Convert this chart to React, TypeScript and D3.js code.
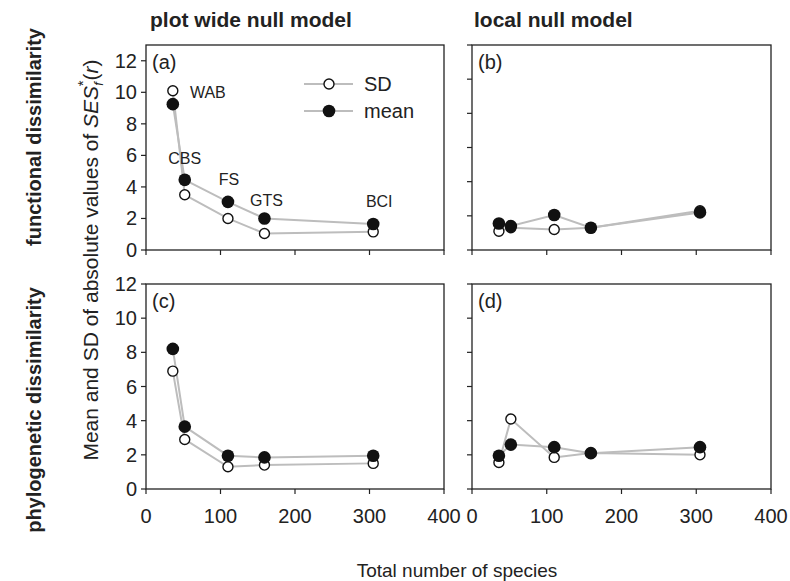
import * as d3 from "d3";

// number of species per plot
const species = [36, 52, 110, 159, 305];
const sites = ["WAB", "CBS", "FS", "GTS", "BCI"];

// functional dissimilarity
const funcSdPlot = [10.1, 3.5, 2.0, 1.05, 1.15];
const funcMeanPlot = [9.25, 4.45, 3.05, 2.0, 1.65];
const funcSdLocal = [1.1, 1.3, 1.2, 1.3, 2.3];
const funcMeanLocal = [1.55, 1.4, 2.05, 1.3, 2.2];

// phylogenetic dissimilarity
const phySdPlot = [6.9, 2.9, 1.3, 1.4, 1.5];
const phyMeanPlot = [8.2, 3.65, 1.95, 1.85, 1.95];
const phySdLocal = [1.55, 4.1, 1.85, 2.1, 2.0];
const phyMeanLocal = [1.95, 2.6, 2.45, 2.1, 2.45];

const xTicks = [0, 100, 200, 300, 400];
const yTicks = [0, 2, 4, 6, 8, 10, 12];

const FONT = "'Liberation Sans', Arial, Helvetica, sans-serif";
const INK = "#222";
const LINE = "#bdbdbd";

type Panel = {
  tag: string;
  sd: number[];
  mean: number[];
  left: number;
  right: number;
  top: number;
  bottom: number;
  yMax: number;
  xLabels: boolean;
  yLabels: boolean;
  siteLabels?: boolean;
};

const panels: Panel[] = [
  { tag: "(a)", sd: funcSdPlot, mean: funcMeanPlot, left: 146, right: 444, top: 45, bottom: 250, yMax: 13, xLabels: false, yLabels: true, siteLabels: true },
  { tag: "(b)", sd: funcSdLocal, mean: funcMeanLocal, left: 472, right: 771, top: 45, bottom: 250, yMax: 12, xLabels: false, yLabels: false },
  { tag: "(c)", sd: phySdPlot, mean: phyMeanPlot, left: 146, right: 444, top: 284, bottom: 489, yMax: 12, xLabels: true, yLabels: true },
  { tag: "(d)", sd: phySdLocal, mean: phyMeanLocal, left: 472, right: 771, top: 284, bottom: 489, yMax: 12, xLabels: true, yLabels: false },
];

// label offsets from the mean point (px)
const siteOffsets: [number, number][] = [
  [35, -6],
  [0, -16],
  [1, -17],
  [2, -12],
  [6, -17],
];

function PanelView({ p }: { p: Panel }) {
  const x = d3.scaleLinear().domain([0, 400]).range([p.left, p.right]);
  const y = d3.scaleLinear().domain([0, p.yMax]).range([p.bottom, p.top]);
  const line = d3
    .line<number>()
    .x((_, i) => x(species[i]))
    .y((d) => y(d));

  return (
    <g>
      <rect
        x={p.left}
        y={p.top}
        width={p.right - p.left}
        height={p.bottom - p.top}
        fill="none"
        stroke={INK}
        strokeWidth={1.3}
      />
      {xTicks.map((t) => (
        <g key={"x" + t}>
          <line x1={x(t)} x2={x(t)} y1={p.bottom} y2={p.bottom + 5} stroke={INK} strokeWidth={1.2} />
          {p.xLabels && (
            <text x={x(t)} y={p.bottom + 34} textAnchor="middle" fontSize={20} fill={INK}>
              {t}
            </text>
          )}
        </g>
      ))}
      {yTicks.map((t) => (
        <g key={"y" + t}>
          <line x1={p.left - 5} x2={p.left} y1={y(t)} y2={y(t)} stroke={INK} strokeWidth={1.2} />
          {p.yLabels && (
            <text x={p.left - 9} y={y(t) + 7} textAnchor="end" fontSize={20} fill={INK}>
              {t}
            </text>
          )}
        </g>
      ))}
      <text x={p.left + 6} y={p.top + 24} fontSize={20} fill={INK}>
        {p.tag}
      </text>

      <path d={line(p.sd) ?? ""} fill="none" stroke={LINE} strokeWidth={2} />
      <path d={line(p.mean) ?? ""} fill="none" stroke={LINE} strokeWidth={2} />
      {p.sd.map((v, i) => (
        <circle key={"s" + i} cx={x(species[i])} cy={y(v)} r={5} fill="#fff" stroke="#111" strokeWidth={1.4} />
      ))}
      {p.mean.map((v, i) => (
        <circle key={"m" + i} cx={x(species[i])} cy={y(v)} r={6.3} fill="#111" />
      ))}
      {p.siteLabels &&
        sites.map((s, i) => (
          <text
            key={s}
            x={x(species[i]) + siteOffsets[i][0]}
            y={y(p.mean[i]) + siteOffsets[i][1]}
            textAnchor="middle"
            fontSize={16}
            fill={INK}
          >
            {s}
          </text>
        ))}
    </g>
  );
}

export default function App() {
  return (
    <svg
      width={790}
      height={581}
      style={{ position: "absolute", left: 0, top: 0, background: "#fff" }}
      fontFamily={FONT}
    >
      <rect width={790} height={581} fill="#fff" />
      <text x={150} y={27} fontSize={21} fontWeight="bold" fill={INK}>
        plot wide null model
      </text>
      <text x={474} y={27} fontSize={21} fontWeight="bold" fill={INK}>
        local null model
      </text>
      <text
        transform="translate(41,137) rotate(-90)"
        textAnchor="middle"
        fontSize={20}
        fontWeight="bold"
        fill={INK}
      >
        functional dissimilarity
      </text>
      <text
        transform="translate(41,410) rotate(-90)"
        textAnchor="middle"
        fontSize={20}
        fontWeight="bold"
        fill={INK}
      >
        phylogenetic dissimilarity
      </text>
      <text transform="translate(98,260) rotate(-90)" textAnchor="middle" fontSize={21} fill={INK}>
        Mean and SD of absolute values of <tspan fontStyle="italic">SES</tspan>
        <tspan fontSize={13} fontStyle="italic" dy={5}>f</tspan>
        <tspan fontSize={15} dx={-4} dy={-15}>*</tspan>
        <tspan dy={10}>(</tspan>
        <tspan fontStyle="italic">r</tspan>
        <tspan>)</tspan>
      </text>
      <text x={457} y={577} textAnchor="middle" fontSize={19} fill={INK}>
        Total number of species
      </text>

      {panels.map((p) => (
        <PanelView key={p.tag} p={p} />
      ))}

      {/* legend */}
      <g>
        <line x1={304} x2={353} y1={84} y2={84} stroke={LINE} strokeWidth={2} />
        <circle cx={329} cy={84} r={5} fill="#fff" stroke="#111" strokeWidth={1.4} />
        <text x={364} y={91} fontSize={20} fill={INK}>SD</text>
        <line x1={304} x2={353} y1={111} y2={111} stroke={LINE} strokeWidth={2} />
        <circle cx={329} cy={111} r={6.3} fill="#111" />
        <text x={364} y={118} fontSize={20} fill={INK}>mean</text>
      </g>
    </svg>
  );
}
